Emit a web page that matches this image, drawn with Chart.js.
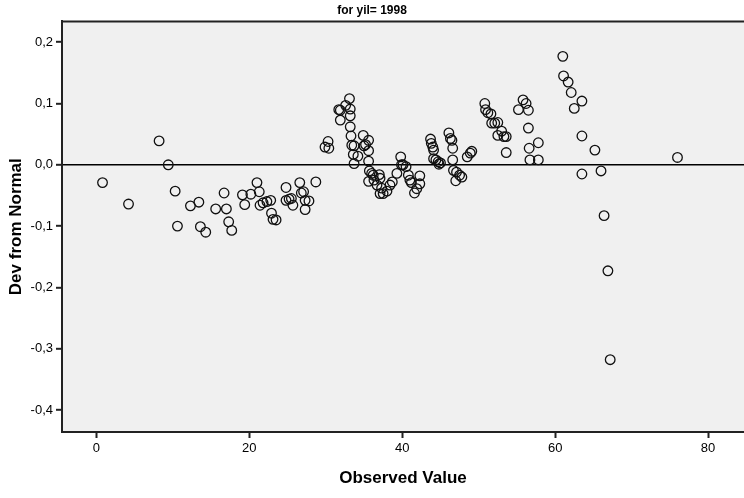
<!DOCTYPE html>
<html>
<head>
<meta charset="utf-8">
<script src="https://cdn.jsdelivr.net/npm/chart.js@4"></script>
<style>
  body { margin: 0; background: #fff; }
</style>
</head>
<body>
<canvas id="grafico" width="744" height="498"></canvas>
<script>
var observed = [
    0.8, 4.2, 8.2, 9.4, 10.3, 10.6, 12.3, 13.4, 13.6, 14.3, 15.6, 16.7, 17.0, 17.3, 17.7,
    19.1, 19.4, 20.2, 21.0, 21.3, 21.4, 21.8, 22.3, 22.8, 22.9, 23.1, 23.5,
    24.8, 24.8, 25.2, 25.5, 25.7, 26.6, 26.8, 27.1, 27.3, 27.3, 27.8, 28.7,
    29.9, 30.3, 30.4, 31.7, 31.9, 31.9, 32.6, 33.1, 33.2, 33.2, 33.2, 33.3, 33.4, 33.7, 33.6, 34.2, 33.7,
    34.9, 35.6, 35.2, 35.0, 35.6, 35.6, 35.7, 36.0, 36.2, 35.6, 36.3, 37.0, 37.1, 36.7, 37.3, 38.4, 38.7,
    37.1, 37.5, 38.0, 39.3, 39.8, 39.9, 40.1, 40.5, 40.8, 41.0, 41.2, 41.6, 41.9, 42.3, 42.3,
    43.7, 43.8, 44.0, 44.1, 44.1, 44.4, 44.7, 45.0, 44.8,
    46.1, 46.3, 46.5, 46.6, 46.6, 46.7, 47.1, 47.5, 47.8, 47.0, 48.5, 48.9, 49.1,
    50.8, 50.9, 51.2, 51.6, 51.7, 52.1, 52.5, 53.0, 52.5, 53.3, 53.6, 53.6,
    55.2, 55.8, 56.2, 56.5, 56.5, 56.6, 56.7, 57.8, 57.8,
    61.0, 61.1, 61.7, 62.1, 63.5, 62.5, 63.5, 65.2, 63.5, 66.0, 76.0, 66.4, 66.9, 67.2
];
var devFromNormal = [
    -0.029, -0.064, 0.039, 0.000, -0.043, -0.100, -0.067, -0.061, -0.101, -0.110, -0.072, -0.046, -0.072, -0.093, -0.107,
    -0.049, -0.065, -0.048, -0.029, -0.044, -0.066, -0.062, -0.060, -0.058, -0.079, -0.089, -0.090,
    -0.037, -0.058, -0.056, -0.055, -0.066, -0.029, -0.046, -0.044, -0.058, -0.073, -0.059, -0.028,
    0.029, 0.038, 0.027, 0.090, 0.089, 0.073, 0.097, 0.108, 0.091, 0.080, 0.062, 0.047, 0.032, 0.031, 0.017, 0.014, 0.002,
    0.048, 0.040, 0.033, 0.031, 0.023, 0.006, -0.010, -0.014, -0.017, -0.027, -0.025, -0.016, -0.022, -0.033, -0.038, -0.033, -0.028,
    -0.047, -0.047, -0.043, -0.014, 0.013, 0.000, 0.000, -0.003, -0.017, -0.025, -0.029, -0.046, -0.039, -0.018, -0.031,
    0.042, 0.035, 0.029, 0.024, 0.010, 0.008, 0.005, 0.003, 0.001,
    0.052, 0.043, 0.040, 0.027, 0.008, -0.009, -0.012, -0.017, -0.020, -0.026, 0.013, 0.019, 0.022,
    0.100, 0.090, 0.085, 0.083, 0.068, 0.068, 0.069, 0.055, 0.048, 0.046, 0.046, 0.020,
    0.090, 0.106, 0.100, 0.089, 0.060, 0.027, 0.008, 0.036, 0.008,
    0.177, 0.145, 0.135, 0.118, 0.104, 0.092, 0.047, 0.024, -0.015, -0.010, 0.012, -0.083, -0.173, -0.318
];
var xTicks = [0, 20, 40, 60, 80];
var yTicks = [-0.4, -0.3, -0.2, -0.1, 0.0, 0.1, 0.2];

var pontos = observed.map(function (v, i) { return { x: v, y: devFromNormal[i] }; });

// fundo cinza e linha de cima da area do grafico
var moldura = {
    id: 'moldura',
    beforeDraw: function (chart) {
        var a = chart.chartArea, c = chart.ctx;
        c.save();
        c.fillStyle = '#f0f0f0';
        c.fillRect(a.left, a.top, a.right - a.left, a.bottom - a.top);
        c.restore();
    },
    afterDraw: function (chart) {
        var a = chart.chartArea, c = chart.ctx;
        c.save();
        c.strokeStyle = '#222';
        c.lineWidth = 2;
        c.beginPath();
        c.moveTo(a.left, a.top);
        c.lineTo(a.right, a.top);
        c.stroke();
        c.restore();
    }
};

var ctx = document.getElementById('grafico').getContext('2d');
var grafico = new Chart(ctx, {
    type: 'scatter',
    data: {
        datasets: [
            {
                label: 'Dev from Normal',
                data: pontos,
                pointStyle: 'circle',
                pointRadius: 4.8,
                pointHoverRadius: 4.8,
                backgroundColor: 'rgba(0,0,0,0)',
                borderColor: '#111',
                borderWidth: 1.3
            }
        ]
    },
    plugins: [moldura],
    options: {
        responsive: false,
        animation: false,
        layout: { autoPadding: false, padding: { left: 0, right: 0, top: 0, bottom: 0 } },
        plugins: {
            legend: { display: false },
            tooltip: { enabled: false },
            title: {
                display: true,
                text: 'for yil= 1998',
                color: '#000',
                font: { family: 'Liberation Sans', size: 12, weight: 'bold' },
                padding: { top: 3, bottom: 4 }
            }
        },
        scales: {
            x: {
                type: 'linear',
                min: -4.5,
                max: 84.7,
                afterFit: function (s) { s.height = 66; s.paddingLeft = 0; s.paddingRight = 0; },
                afterBuildTicks: function (s) { s.ticks = xTicks.map(function (v) { return { value: v }; }); },
                ticks: {
                    color: '#000',
                    font: { family: 'Liberation Sans', size: 13 },
                    padding: 3,
                    maxRotation: 0
                },
                grid: {
                    drawOnChartArea: false,
                    tickLength: 6,
                    tickColor: '#222',
                    tickWidth: 2
                },
                border: { display: true, color: '#222', width: 2 },
                title: {
                    display: true,
                    text: 'Observed Value',
                    color: '#000',
                    font: { family: 'Liberation Sans', size: 17, weight: 'bold' },
                    padding: { top: 4, bottom: 9 }
                }
            },
            y: {
                type: 'linear',
                min: -0.436,
                max: 0.234,
                afterFit: function (s) { s.width = 62; s.paddingTop = 0; s.paddingBottom = 0; },
                afterBuildTicks: function (s) { s.ticks = yTicks.map(function (v) { return { value: v }; }); },
                ticks: {
                    color: '#000',
                    font: { family: 'Liberation Sans', size: 13 },
                    padding: 3,
                    callback: function (v) { return (Math.round(v * 10) / 10).toFixed(1).replace('.', ','); }
                },
                grid: {
                    color: function (c) { return c.tick && Math.abs(c.tick.value) < 1e-9 ? '#000' : 'rgba(0,0,0,0)'; },
                    lineWidth: 1.6,
                    tickLength: 6,
                    tickColor: '#222',
                    tickWidth: 2
                },
                border: { display: true, color: '#222', width: 2 },
                title: {
                    display: true,
                    text: 'Dev from Normal',
                    color: '#000',
                    font: { family: 'Liberation Sans', size: 17, weight: 'bold' },
                    padding: { top: 6, bottom: 0 }
                }
            }
        }
    }
});
</script>
</body>
</html>
